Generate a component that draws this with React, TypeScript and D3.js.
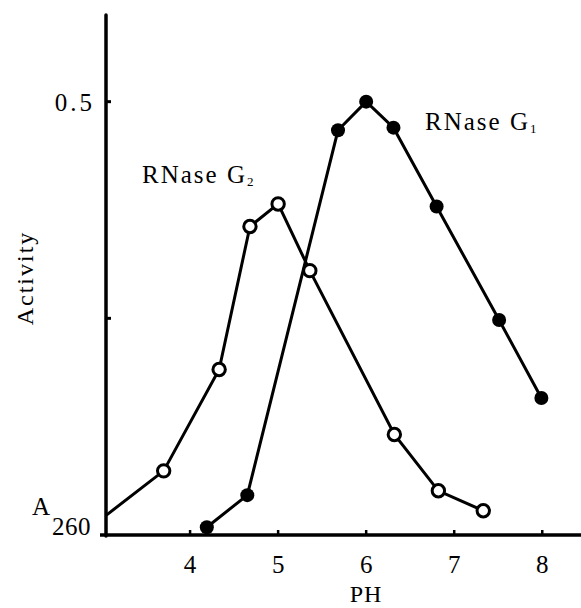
import React from "react";
import * as d3 from "d3";

const phG2 = [3.05, 3.7, 4.33, 4.68, 5.0, 5.36, 6.32, 6.82, 7.33];
const actG2 = [0.023, 0.074, 0.191, 0.356, 0.382, 0.305, 0.116, 0.051, 0.028];
const phG1 = [4.19, 4.65, 5.68, 6.0, 6.31, 6.8, 7.51, 7.99];
const actG1 = [0.009, 0.046, 0.467, 0.5, 0.47, 0.379, 0.248, 0.158];
const xTicks = [4, 5, 6, 7, 8];
const yTicks = [0.25, 0.5];
const yTickLabels = ["", "0.5"];

const W = 581;
const H = 608;
const FONT = "'Liberation Serif', 'Times New Roman', serif";

export default function App() {
  const x = d3.scaleLinear().domain([3.045, 8.44]).range([106, 581]);
  const y = d3.scaleLinear().domain([0, 0.6]).range([535, 15]);
  const line = d3
    .line<[number, number]>()
    .x((d) => x(d[0]))
    .y((d) => y(d[1]));
  const g2: [number, number][] = phG2.map((p, i) => [p, actG2[i]]);
  const g1: [number, number][] = phG1.map((p, i) => [p, actG1[i]]);
  const x0 = x.range()[0];
  const y0 = y(0);

  return (
    <svg
      width={W}
      height={H}
      style={{ position: "absolute", left: 0, top: 0, background: "#fff" }}
      fontFamily={FONT}
    >
      <rect width={W} height={H} fill="#fff" />
      {/* axes */}
      <line x1={x0} x2={x0} y1={y(0.6)} y2={y0 + 1} stroke="#000" strokeWidth={3.5} strokeLinecap="round" />
      <line x1={100} x2={W} y1={y0} y2={y0} stroke="#000" strokeWidth={3.5} />
      {yTicks.map((t, i) => (
        <g key={"yt" + i}>
          <line x1={x0} x2={x0 + 5} y1={y(t)} y2={y(t)} stroke="#000" strokeWidth={3} />
          {yTickLabels[i] && (
            <text x={x0 - 11} y={y(t) + 9} fontSize={25} textAnchor="end" letterSpacing={3}>
              {yTickLabels[i]}
            </text>
          )}
        </g>
      ))}
      {xTicks.map((t) => (
        <g key={"xt" + t}>
          <line x1={x(t)} x2={x(t)} y1={y0} y2={y0 - 5} stroke="#000" strokeWidth={2.5} />
          <text x={x(t)} y={y0 + 38} fontSize={25} textAnchor="middle">
            {t}
          </text>
        </g>
      ))}
      {/* axis titles */}
      <text x={366} y={602} fontSize={24} textAnchor="middle" letterSpacing={1}>
        PH
      </text>
      <text
        transform={`translate(33,278) rotate(-90)`}
        fontSize={24}
        textAnchor="middle"
        letterSpacing={2}
      >
        Activity
      </text>
      <text x={32} y={515} fontSize={25}>A</text>
      <text x={52} y={535} fontSize={25} letterSpacing={0.5}>260</text>

      {/* lines */}
      <path d={line(g2) || ""} fill="none" stroke="#000" strokeWidth={3} />
      <path d={line(g1) || ""} fill="none" stroke="#000" strokeWidth={3} />

      {g1.map((d, i) => (
        <circle key={"g1" + i} cx={x(d[0])} cy={y(d[1])} r={7} fill="#000" />
      ))}
      {g2.slice(1).map((d, i) => (
        <circle
          key={"g2" + i}
          cx={x(d[0])}
          cy={y(d[1])}
          r={6.2}
          fill="#fff"
          stroke="#000"
          strokeWidth={3}
        />
      ))}

      {/* series labels */}
      <text x={425} y={130} fontSize={25} letterSpacing={2}>
        RNase G<tspan fontSize={13} dy={3}>1</tspan>
      </text>
      <text x={142} y={183} fontSize={25} letterSpacing={2}>
        RNase G<tspan fontSize={13} dy={3}>2</tspan>
      </text>
    </svg>
  );
}
